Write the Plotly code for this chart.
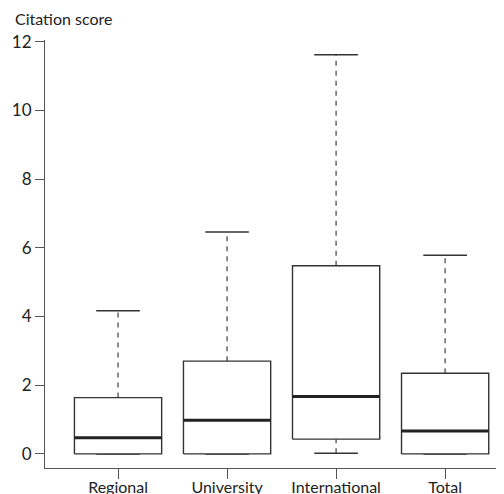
import plotly.graph_objects as go

categories = ["Regional", "University", "International", "Total"]
lower = [0.0, 0.0, 0.02, 0.0]
q1 = [0.0, 0.0, 0.43, 0.0]
median = [0.47, 0.98, 1.67, 0.67]
q3 = [1.64, 2.70, 5.48, 2.35]
upper = [4.17, 6.46, 11.62, 5.78]
y_ticks = [0, 2, 4, 6, 8, 10, 12]

BOX_HALF = 0.4
CAP_HALF = 0.2
FONT = "Lato, 'Open Sans', sans-serif"

fig = go.Figure()
for i in range(len(categories)):
    # upper whisker (dashed)
    fig.add_trace(go.Scatter(x=[i, i], y=[q3[i], upper[i]], mode="lines",
                             line=dict(color="#666666", width=1.5, dash="5px,5px"),
                             hoverinfo="skip", showlegend=False))
    # lower whisker (dashed)
    if lower[i] < q1[i]:
        fig.add_trace(go.Scatter(x=[i, i], y=[lower[i], q1[i]], mode="lines",
                                 line=dict(color="#666666", width=1.5, dash="5px,5px"),
                                 hoverinfo="skip", showlegend=False))
    # caps
    for v in (upper[i], lower[i]):
        fig.add_trace(go.Scatter(x=[i - CAP_HALF, i + CAP_HALF], y=[v, v], mode="lines",
                                 line=dict(color="#333333", width=1.5),
                                 hoverinfo="skip", showlegend=False))
    # box
    fig.add_trace(go.Scatter(
        x=[i - BOX_HALF, i + BOX_HALF, i + BOX_HALF, i - BOX_HALF, i - BOX_HALF],
        y=[q1[i], q1[i], q3[i], q3[i], q1[i]], mode="lines",
        line=dict(color="#333333", width=1.4), fill="toself", fillcolor="white",
        hoverinfo="skip", showlegend=False))
    # median
    fig.add_trace(go.Scatter(x=[i - BOX_HALF, i + BOX_HALF], y=[median[i], median[i]],
                             mode="lines", line=dict(color="#222222", width=3),
                             hoverinfo="skip", showlegend=False))

# The page body keeps an 8px margin, so the figure is 8px smaller to fit the window.
fig.update_layout(
    template="none",
    width=496, height=486,
    margin=dict(l=37, r=0, t=32, b=26, autoexpand=False),
    paper_bgcolor="white", plot_bgcolor="white",
    font=dict(family=FONT, size=16, color="#222222"),
    xaxis=dict(range=[-0.67, 3.54], tickmode="array", tickvals=list(range(len(categories))),
               ticktext=categories, showgrid=False, zeroline=False, showline=True,
               linecolor="#555555", linewidth=1.2, ticks="outside", ticklen=10,
               tickcolor="#555555", tickwidth=1.2, automargin=False,
               ticklabelstandoff=-5,
               tickfont=dict(size=16, family=FONT, color="#222222")),
    yaxis=dict(range=[-0.41, 12.05], tickmode="array", tickvals=y_ticks,
               showgrid=False, zeroline=False, showline=True,
               linecolor="#555555", linewidth=1.2, ticks="outside", ticklen=9,
               tickcolor="#555555", tickwidth=1.2, automargin=False,
               tickfont=dict(size=17, family=FONT, color="#222222")),
    annotations=[dict(text="Citation score", xref="paper", yref="paper", x=0, y=1,
                      xanchor="left", yanchor="bottom", xshift=-32, yshift=10,
                      showarrow=False, font=dict(size=16, family=FONT, color="#222222"))],
)

fig.write_html("out.html")
